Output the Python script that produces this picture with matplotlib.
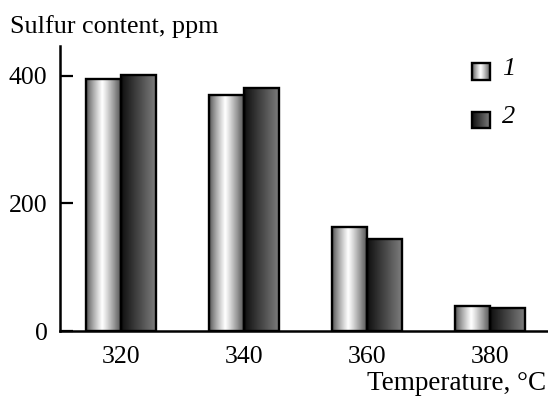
import matplotlib
matplotlib.use("Agg")
import matplotlib.pyplot as plt
import matplotlib.patches as mpatches
import numpy as np

plt.rcParams['font.family'] = ['Liberation Serif', 'DejaVu Serif']

temps = ["320", "340", "360", "380"]
series1 = [395, 370, 163, 39]
series2 = [401, 381, 144, 36]
series_labels = ["1", "2"]


def grad_light(n=64):
    t = np.linspace(0, 1, n)
    # dark gray at left, white near 45%, gray at right
    v = np.where(t < 0.45, 0.30 + 0.70 * (t / 0.45) ** 0.8, 1.0 - 0.7 * ((t - 0.45) / 0.55) ** 1.1)
    return v


def grad_dark(n=64):
    t = np.linspace(0, 1, n)
    return 0.06 + 0.44 * t


def draw_bar(ax, x0, w, h, vals):
    img = np.tile(vals, (2, 1))
    ax.imshow(img, cmap="gray", vmin=0, vmax=1, aspect="auto",
              extent=[x0, x0 + w, 0, h], interpolation="bilinear", zorder=2)
    ax.add_patch(mpatches.Rectangle((x0, 0), w, h, fill=False, edgecolor="black",
                                    linewidth=1.7, zorder=3))


fig = plt.figure(figsize=(5.48, 3.97), dpi=100)
ax = fig.add_axes([60 / 548, 66 / 397, 488 / 548, 285 / 397])

w = 0.285
x = np.arange(len(temps))
for i in range(len(temps)):
    draw_bar(ax, x[i] - w, w, series1[i], grad_light())
    draw_bar(ax, x[i], w, series2[i], grad_dark())

ax.set_xlim(-0.496, 3.47)
ax.set_ylim(0, 447)
ax.set_yticks([0, 200, 400])
ax.set_xticks(x)
ax.set_xticklabels(temps)
ax.tick_params(axis="y", direction="in", length=9, width=1.6, pad=9, labelsize=18.5)
ax.tick_params(axis="x", length=0, pad=11, labelsize=18.5)
for s in ["top", "right"]:
    ax.spines[s].set_visible(False)
for s in ["left", "bottom"]:
    ax.spines[s].set_linewidth(1.8)
ax.set_aspect("auto")

# legend
leg_y = [(0.881, 0.940), (0.712, 0.768)]
grads = [grad_light(), grad_dark()]
for (y0, y1), g, lab in zip(leg_y, grads, series_labels):
    img = np.tile(g, (2, 1))
    ax.imshow(img, cmap="gray", vmin=0, vmax=1, aspect="auto",
              extent=[0.844, 0.881, y0, y1], transform=ax.transAxes,
              interpolation="bilinear", zorder=2)
    ax.add_patch(mpatches.Rectangle((0.844, y0), 0.037, y1 - y0, fill=False,
                                    edgecolor="black", linewidth=1.7,
                                    transform=ax.transAxes, zorder=3))
    ax.text(0.905, (y0 + y1) / 2 + 0.01, lab, transform=ax.transAxes, fontsize=19,
            style="italic", va="center", ha="left")

fig.text(10 / 548, 1 - 27 / 397, "Sulfur content, ppm", fontsize=18.8, va="center", ha="left")
fig.text(546 / 548, 1 - 383 / 397, "Temperature, °C", fontsize=19.5, va="center", ha="right")

fig.savefig("out.png", dpi=100)
